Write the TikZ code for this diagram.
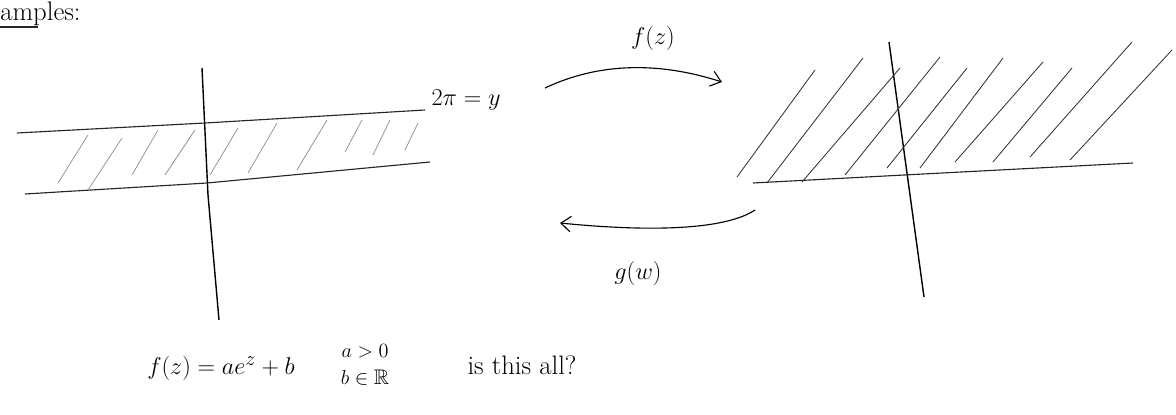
\documentclass[tikz,border=0pt]{standalone}
\usepackage{amssymb}
\usetikzlibrary{arrows.meta, positioning}

\begin{document}
\begin{tikzpicture}[
  x=0.025cm, y=-0.025cm,
  every node/.style={font=\fontsize{19}{21}\selectfont, inner sep=1pt},
  axisline/.style={line width=1pt, black},
  edgeline/.style={line width=0.8pt, black!85},
  hatchL/.style={line width=0.5pt, black!45},
  hatchR/.style={line width=0.6pt, black!80},
  map/.style={line width=0.8pt, -{Straight Barb[length=7pt, width=11pt]}},
  small/.style={font=\fontsize{15}{19}\selectfont, align=center},
]
\useasboundingbox (0,0) rectangle (1176,414);

\node[anchor=north west, inner sep=0pt] (title) at (0,2) {amples:};
\draw[edgeline] (0,27) -- (38,27);

\draw[axisline] (202,68) -- (208,195) -- (219,320);
\draw[edgeline] (17,133) -- (205,123) -- (425,110);
\draw[edgeline] (25,194) -- (207,183) -- (430,162);
\foreach \xa/\ya/\xb/\yb in {58/183/88/135, 88/190/122/138, 132/175/158/130,
  165/175/195/130, 210/175/238/128, 248/173/277/123, 297/170/327/120,
  345/152/362/120, 373/155/390/120, 405/150/418/123}
  \draw[hatchL] (\xa,\ya) -- (\xb,\yb);
\node (strip) at (466,100) {$2\pi = y$};

\draw[axisline] (889,42) -- (924,297);
\draw[edgeline] (753,183) -- (904,175) -- (1133,163);
\foreach \xa/\ya/\xb/\yb in {737/177/815/70, 767/183/863/58, 802/182/900/68,
  845/175/940/57, 887/168/967/68, 920/168/1003/58, 955/162/1043/62,
  993/162/1072/68, 1030/157/1132/42, 1070/160/1172/50}
  \draw[hatchR] (\xa,\ya) -- (\xb,\yb);

\coordinate (fs) at (545,88);
\coordinate (fe) at (722,82);
\draw[map] (fs) .. controls (600,62) and (660,62) .. (fe);
\node (fz) at (653,38) {$f(z)$};

\coordinate (gs) at (755,210);
\coordinate (ge) at (560,223);
\draw[map] (gs) .. controls (725,230) and (650,232) .. (ge);
\node (gw) at (638,273) {$g(w)$};

\node (feq) at (221,368) {$f(z) = ae^{z} + b$};
\node[small] (cond) at (365,365) {$a>0$\\$b\in\mathbb{R}$};
\node (ask) at (522,365) {is this all?};
\end{tikzpicture}
\end{document}
